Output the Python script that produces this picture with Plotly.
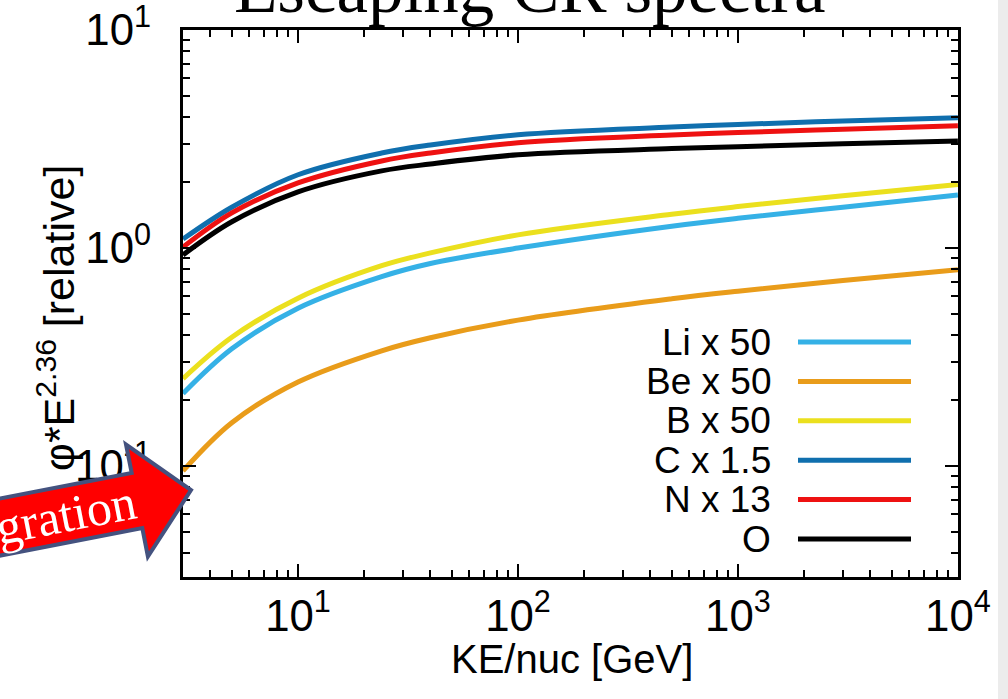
import plotly.graph_objects as go

# Kinetic energy per nucleon [GeV]
ke = [3, 5, 10, 24, 40, 100, 500, 1000, 3000, 10000]

# Escaping spectra, phi * E^2.36 (relative, scaled per species)
li = [0.215, 0.345, 0.53, 0.74, 0.85, 1.00, 1.26, 1.37, 1.54, 1.75]
be = [0.095, 0.158, 0.243, 0.338, 0.388, 0.467, 0.585, 0.634, 0.71, 0.795]
b = [0.252, 0.39, 0.589, 0.83, 0.95, 1.15, 1.43, 1.55, 1.74, 1.96]
c = [1.10, 1.54, 2.17, 2.73, 2.97, 3.31, 3.59, 3.69, 3.83, 3.96]
n = [1.01, 1.45, 1.99, 2.51, 2.73, 3.04, 3.30, 3.39, 3.51, 3.64]
o = [0.93, 1.32, 1.81, 2.26, 2.43, 2.68, 2.86, 2.92, 3.01, 3.10]

names = ["Li x 50", "Be x 50", "B x 50", "C x 1.5", "N x 13", "O"]
series = [li, be, b, c, n, o]
colors = ["#35b1e6", "#e99c1a", "#ebe01e", "#106fae", "#ee1111", "#000000"]

# Decade labels written as powers of ten
decade_labels = {"0.1": "10<sup>-1</sup>", "1": "10<sup>0</sup>",
                 "10": "10<sup>1</sup>"}

W, H = 1008, 699
ML, MR, MT, MB = 183, 50, 30, 122
PW, PH = W - ML - MR, H - MT - MB


def px(xp):
    return (xp - ML) / PW


def py(yp):
    return (H - MB - yp) / PH


SANS = "Liberation Sans, Arial, sans-serif"
SERIF = "Liberation Serif, Times New Roman, serif"

fig = go.Figure()
for name, ys, col in zip(names, series, colors):
    fig.add_trace(go.Scatter(
        x=ke, y=ys, name=name, mode="lines",
        line=dict(color=col, width=5, shape="spline", smoothing=1.0),
        showlegend=False,
    ))

axis_common = dict(
    type="log", showline=True, linecolor="black", linewidth=3,
    mirror="allticks", ticks="inside", ticklen=13, tickwidth=1.5,
    tickcolor="black", showgrid=False, zeroline=False,
    exponentformat="power", dtick=1, ticklabeloverflow="allow",
    automargin=False,
    labelalias={"10": decade_labels["10"], "1": decade_labels["1"],
                "10<sup>\u22121</sup>": decade_labels["0.1"]},
    tickfont=dict(family=SANS, size=35, color="black"),
    minor=dict(ticks="inside", ticklen=7, tickwidth=1.5, tickcolor="black",
               showgrid=False),
)

fig.update_layout(
    width=W, height=H,
    margin=dict(l=ML, r=MR, t=MT, b=MB, autoexpand=False),
    paper_bgcolor="white", plot_bgcolor="white",
    xaxis=dict(range=[0.4771, 4.0005], ticklabelstandoff=0, **axis_common),
    yaxis=dict(range=[-1.509, 1.0005], ticklabelstandoff=22, **axis_common),
)

annotations = [
    dict(text="Escaping CR spectra", x=px(530), y=py(-12), xref="paper", yref="paper",
         showarrow=False, xanchor="center", yanchor="middle",
         font=dict(family=SERIF, size=71, color="black")),
    dict(text="KE/nuc [GeV]", x=px(572), y=py(659), xref="paper", yref="paper",
         showarrow=False, xanchor="center", yanchor="middle",
         font=dict(family=SANS, size=40, color="black")),
    dict(text="\u03c6*E<sup>2.36</sup> [relative]", x=px(56), y=py(318),
         xref="paper", yref="paper", showarrow=False, textangle=-90,
         xanchor="center", yanchor="middle",
         font=dict(family=SANS, size=43, color="black")),
]

# Key: labels right-aligned, line samples to their right
row0, row_gap = 342, 39.4
shapes = []
for i, (name, col) in enumerate(zip(names, colors)):
    yr = row0 + i * row_gap
    annotations.append(dict(
        text=name, x=px(773), y=py(yr), xref="paper", yref="paper",
        showarrow=False, xanchor="right", yanchor="middle",
        font=dict(family=SANS, size=37, color="black")))
    shapes.append(dict(type="line", xref="paper", yref="paper",
                       x0=px(798), x1=px(911), y0=py(yr), y1=py(yr),
                       line=dict(color=col, width=5)))

# Light strip along the right edge of the page
shapes.append(dict(type="rect", xref="paper", yref="paper", layer="below",
                   x0=px(998), x1=px(1010), y0=py(H + 2), y1=py(-2),
                   fillcolor="#ececec", line=dict(width=0)))

# Block arrow pointing at the low-energy end of the spectra
arrow_px = [(-64.4, 511.0), (131.7, 473.0), (126.0, 444.5), (191.0, 490.0),
            (147.9, 556.5), (142.3, 528.0), (-53.6, 566.0)]
path = "M " + " L ".join(f"{px(a):.5f},{py(b_):.5f}" for a, b_ in arrow_px) + " Z"
shapes.append(dict(type="path", xref="paper", yref="paper", layer="above",
                   path=path, fillcolor="#ff0000",
                   line=dict(color="#44527f", width=4)))
annotations.append(dict(
    text="Integration", x=px(27), y=py(522), xref="paper", yref="paper",
    showarrow=False, textangle=-11, xanchor="center", yanchor="middle",
    font=dict(family=SERIF, size=50, color="white")))

fig.update_layout(annotations=annotations, shapes=shapes)

fig.write_html("out.html")
